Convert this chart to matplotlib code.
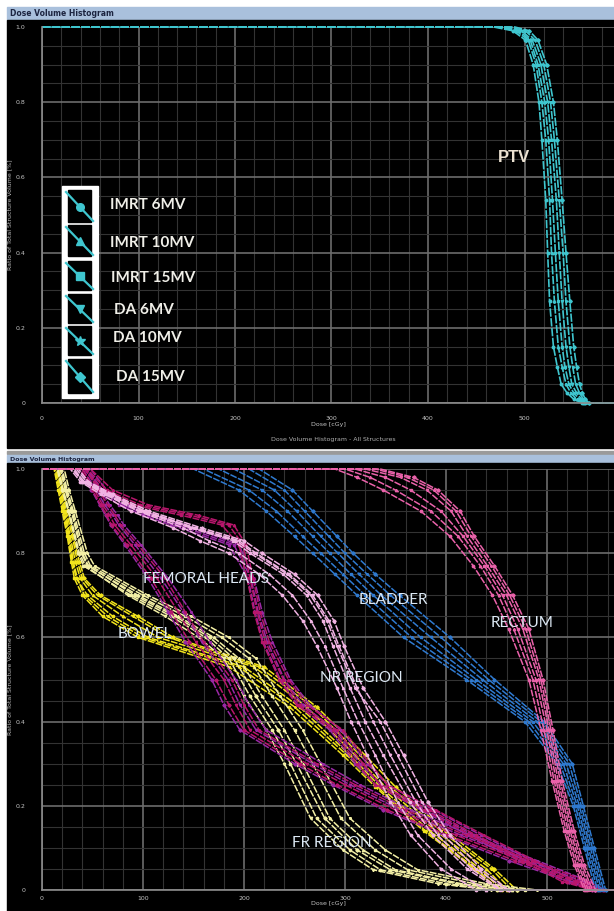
import numpy as np
import matplotlib
matplotlib.use("Agg")
import matplotlib.pyplot as plt
from matplotlib.patches import Rectangle

W, H = 614, 911

# plans (legend) and the marker each plan uses
plans = ["IMRT 6MV", "IMRT 10MV", "IMRT 15MV", "DA 6MV", "DA 10MV", "DA 15MV"]
plan_markers = ["o", "^", "s", "v", "*", "D"]

dose_ticks = [0, 100, 200, 300, 400, 500]
dose_tick_labels = ["0", "100", "200", "300", "400", "500"]
vol_ticks = [0, 0.2, 0.4, 0.6, 0.8, 1.0]
vol_tick_labels = ["0", "0.2", "0.4", "0.6", "0.8", "1.0"]

# ---- PTV (top window): dose at each volume level, one row per plan
ptv_vol = [1.0, 0.99, 0.965, 0.9, 0.8, 0.7, 0.54, 0.4, 0.27, 0.15, 0.096, 0.05, 0.027, 0.01, 0.0]
ptv_dose = [
    [468, 488, 501, 509, 515, 518, 522, 524, 526, 530, 534, 538, 544, 551, 560],
    [472, 491, 504, 512, 518, 522, 526, 528, 531, 535, 539, 543, 548, 554, 562],
    [476, 494, 506, 514, 521, 525, 529, 532, 535, 539, 542, 546, 551, 557, 563],
    [480, 497, 508, 517, 524, 528, 533, 536, 539, 543, 546, 549, 554, 559, 564],
    [485, 501, 511, 520, 527, 531, 536, 540, 543, 547, 550, 553, 557, 561, 566],
    [490, 505, 514, 523, 530, 534, 539, 543, 547, 551, 554, 557, 560, 563, 567],
]

# ---- organs at risk (bottom window)
bowel_vol = [1.0, 0.95, 0.9, 0.84, 0.78, 0.74, 0.7, 0.65, 0.6, 0.53, 0.435, 0.32, 0.245, 0.14, 0.05, 0.0]
bowel_dose = [
    [13, 17, 21, 26, 30, 34, 45, 70, 105, 200, 255, 305, 335, 384, 434, 455],
    [15, 19, 23, 28, 33, 38, 50, 80, 115, 210, 262, 310, 340, 390, 440, 460],
    [12, 16, 20, 25, 29, 32, 40, 60, 95, 185, 245, 298, 330, 378, 428, 450],
    [16, 20, 24, 30, 35, 40, 55, 90, 125, 215, 268, 315, 345, 395, 445, 465],
    [14, 18, 22, 27, 31, 35, 42, 65, 100, 195, 250, 302, 332, 380, 430, 452],
    [17, 21, 26, 31, 37, 42, 58, 95, 130, 220, 272, 320, 350, 400, 448, 470],
]

fr_vol = [1.0, 0.95, 0.9, 0.8, 0.77, 0.7, 0.65, 0.6, 0.55, 0.46, 0.38, 0.3, 0.17, 0.095, 0.048, 0.015, 0.0]
fr_dose = [
    [15, 20, 26, 36, 41, 88, 128, 162, 185, 206, 228, 246, 272, 305, 335, 400, 450],
    [18, 23, 29, 39, 45, 95, 135, 170, 195, 218, 240, 258, 285, 318, 350, 415, 465],
    [20, 25, 31, 42, 48, 100, 142, 178, 205, 228, 250, 268, 296, 330, 362, 428, 478],
    [16, 21, 27, 37, 43, 85, 122, 155, 180, 200, 222, 240, 266, 298, 328, 392, 445],
    [22, 27, 33, 45, 52, 105, 148, 185, 212, 236, 258, 276, 305, 340, 372, 440, 490],
    [19, 24, 30, 40, 46, 92, 132, 166, 190, 212, 234, 252, 280, 312, 345, 410, 470],
]

fem_vol = [1.0, 0.95, 0.915, 0.89, 0.867, 0.82, 0.74, 0.66, 0.59, 0.5, 0.44, 0.38, 0.3, 0.25, 0.19, 0.13, 0.07, 0.02, 0.0]
fem_left_dose = [
    [45, 64, 97, 147, 185, 199, 206, 213, 221, 239, 255, 292, 318, 335, 384, 430, 480, 520, 550],
    [48, 70, 105, 155, 190, 202, 209, 216, 225, 244, 262, 298, 325, 342, 390, 438, 488, 528, 556],
    [42, 60, 90, 138, 178, 195, 203, 210, 218, 235, 252, 288, 312, 330, 378, 425, 475, 515, 545],
    [40, 52, 60, 67, 72, 88, 114, 135, 152, 180, 192, 206, 262, 300, 350, 410, 475, 533, 550],
    [43, 56, 65, 72, 78, 95, 122, 142, 160, 188, 200, 215, 272, 310, 360, 420, 485, 540, 556],
    [38, 50, 58, 64, 69, 84, 108, 128, 146, 172, 185, 200, 255, 292, 342, 402, 468, 528, 548],
]
fem_right_dose = [
    [45, 60, 80, 105, 135, 190, 207, 214, 223, 240, 258, 290, 315, 335, 380, 428, 478, 525, 552],
    [48, 64, 86, 112, 142, 195, 210, 218, 228, 246, 265, 296, 322, 342, 388, 435, 485, 530, 555],
    [42, 57, 76, 100, 128, 185, 204, 211, 219, 236, 253, 285, 310, 330, 375, 422, 472, 520, 548],
    [40, 54, 62, 70, 76, 92, 118, 140, 158, 184, 196, 212, 268, 305, 355, 415, 480, 536, 553],
    [44, 58, 67, 75, 81, 98, 125, 148, 166, 192, 205, 222, 278, 315, 365, 425, 490, 542, 558],
    [37, 49, 57, 63, 68, 82, 105, 125, 142, 168, 180, 196, 250, 288, 338, 398, 462, 522, 545],
]

nr_vol = [1.0, 0.97, 0.94, 0.9, 0.86, 0.83, 0.8, 0.75, 0.7, 0.64, 0.58, 0.48, 0.4, 0.32, 0.21, 0.13, 0.05, 0.0]
nr_dose = [
    [28, 38, 58, 88, 130, 156, 185, 215, 238, 258, 272, 292, 306, 322, 345, 365, 395, 430],
    [30, 40, 62, 95, 140, 165, 195, 225, 248, 266, 280, 298, 313, 330, 352, 372, 405, 440],
    [32, 41, 64, 97, 147, 189, 206, 239, 262, 278, 288, 305, 320, 338, 364, 387, 421, 453],
    [34, 44, 68, 102, 152, 195, 212, 245, 268, 284, 294, 312, 328, 345, 370, 392, 425, 455],
    [30, 42, 66, 100, 150, 192, 210, 243, 266, 282, 292, 310, 335, 352, 376, 398, 430, 460],
    [36, 46, 70, 106, 158, 200, 218, 250, 273, 289, 299, 318, 340, 358, 382, 404, 435, 462],
]

bladder_vol = [1.0, 0.95, 0.9, 0.84, 0.8, 0.75, 0.7, 0.6, 0.5, 0.4, 0.3, 0.2, 0.1, 0.0]
bladder_dose = [
    [150, 195, 222, 250, 268, 290, 312, 358, 420, 478, 510, 526, 537, 548],
    [160, 205, 232, 258, 276, 298, 320, 366, 425, 482, 513, 528, 539, 550],
    [175, 218, 243, 268, 285, 306, 328, 375, 430, 486, 516, 530, 541, 552],
    [190, 230, 252, 276, 293, 314, 336, 385, 436, 490, 519, 532, 543, 554],
    [205, 240, 260, 284, 300, 322, 345, 395, 442, 494, 522, 534, 545, 556],
    [215, 248, 268, 292, 308, 330, 354, 404, 448, 497, 525, 536, 547, 558],
]

rectum_vol = [1.0, 0.98, 0.95, 0.9, 0.84, 0.77, 0.7, 0.62, 0.5, 0.38, 0.26, 0.14, 0.06, 0.0]
rectum_dose = [
    [290, 312, 338, 375, 404, 427, 446, 462, 482, 494, 505, 517, 527, 537],
    [300, 325, 350, 385, 412, 434, 452, 467, 486, 497, 507, 519, 529, 539],
    [310, 340, 365, 395, 417, 438, 456, 471, 489, 500, 509, 521, 531, 541],
    [320, 355, 381, 405, 421, 441, 460, 476, 492, 502, 511, 523, 533, 543],
    [330, 362, 388, 410, 425, 445, 463, 479, 494, 504, 513, 525, 535, 545],
    [335, 368, 392, 414, 428, 448, 466, 482, 496, 506, 515, 527, 537, 548],
]

organs = [
    (bowel_vol, bowel_dose, "#f2e41c"),
    (fr_vol, fr_dose, "#f4f0a6"),
    (fem_vol, fem_right_dose, "#9a28a6"),
    (fem_vol, fem_left_dose, "#b8166c"),
    (nr_vol, nr_dose, "#f2b4e4"),
    (bladder_vol, bladder_dose, "#2f7ad0"),
    (rectum_vol, rectum_dose, "#ea62aa"),
]

LABEL_FONT = ["Lato", "DejaVu Sans"]


def px_axes(fig, x0, y0, x1, y1):
    # axes placed by pixel box (top-left origin)
    return fig.add_axes([x0 / W, 1 - y1 / H, (x1 - x0) / W, (y1 - y0) / H])


def style_dvh(ax, xmax):
    ax.set_facecolor("black")
    ax.set_xlim(0, xmax)
    ax.set_ylim(0, 1.0)
    ax.set_xticks(dose_ticks)
    ax.set_xticklabels(dose_tick_labels)
    ax.set_yticks(vol_ticks)
    ax.set_yticklabels(vol_tick_labels)
    ax.set_xticks(np.arange(0, xmax, 20), minor=True)
    ax.set_yticks(np.arange(0, 1.0, 0.05), minor=True)
    ax.grid(which="minor", color="#333333", lw=0.8)
    ax.grid(which="major", color="#6c6c6c", lw=1.2)
    ax.set_axisbelow(True)
    ax.tick_params(which="both", length=0, labelsize=4.5, colors="#c4c4c4")
    ax.tick_params(axis="y", pad=12)
    for s in ["top", "right"]:
        ax.spines[s].set_visible(False)
    for s in ["left", "bottom"]:
        ax.spines[s].set_color("#8c8c8c")
        ax.spines[s].set_linewidth(1.2)
    ax.set_ylabel("Ratio of Total Structure Volume [%]", fontsize=4.5,
                  color="#b8b8b8", labelpad=2)


def draw_curves(ax, vols, doses, color, xmax, lw=1.1):
    for i, d in enumerate(doses):
        x = [0] + list(d) + [xmax]
        y = [1.0] + list(vols) + [0.0]
        ax.plot(x, y, color=color, lw=lw, ls=(0, (4.5, 0.9)),
                marker=plan_markers[i], ms=1.7, markevery=list(range(2, len(x) - 1)),
                clip_on=False)


fig = plt.figure(figsize=(W / 100, H / 100), dpi=100)
fig.patch.set_facecolor("white")

# window frames
bg = fig.add_axes([0, 0, 1, 1])
bg.set_xlim(0, W)
bg.set_ylim(H, 0)
bg.axis("off")
bg.add_patch(Rectangle((7, 7), W - 7, 13, color="#a9c0dc"))
bg.add_patch(Rectangle((7, 20), W - 7, 428, color="black"))
bg.add_patch(Rectangle((7, 451), W - 7, 3, color="#9a9a9a"))
bg.add_patch(Rectangle((7, 455), W - 7, 8, color="#a9c0dc"))
bg.add_patch(Rectangle((7, 463), W - 7, H - 463, color="black"))
bg.text(10, 13.5, "Dose Volume Histogram", fontsize=5.5, color="#1c2440",
        va="center", ha="left", fontweight="bold")
bg.text(10, 459, "Dose Volume Histogram", fontsize=4.5, color="#1c2440",
        va="center", ha="left", fontweight="bold")
bg.text(333, 440, "Dose Volume Histogram - All Structures", fontsize=4.5,
        color="#b0b0b0", ha="center", va="center")

# top: PTV
top_xmax = 572 / 0.965
ax1 = px_axes(fig, 42, 27, W, 403)
style_dvh(ax1, top_xmax)
ax1.tick_params(axis="x", pad=9)
for i, d in enumerate(ptv_dose):
    x = [0] + d + [top_xmax]
    y = [1.0] + ptv_vol + [0.0]
    ax1.plot(x, y, color="#3fc6cf", lw=1.2, ls=(0, (5, 0.9)),
             marker=plan_markers[i], ms=1.8, markevery=list(range(2, len(x) - 1)),
             clip_on=False)
ax1.set_xlabel("Dose [cGy]", fontsize=4.5, color="#c4c4c4", labelpad=1)
ax1.text(472, 0.654, "PTV", fontsize=12, fontweight="bold", color="#ece2d2",
         family=["Liberation Sans", "DejaVu Sans"], ha="left", va="center")

# bottom: organs
bot_xmax = 572 / 1.01
ax2 = px_axes(fig, 42, 469, W, 890)
style_dvh(ax2, bot_xmax)
ax2.tick_params(axis="x", pad=4)
for vols, doses, color in organs:
    draw_curves(ax2, vols, doses, color, bot_xmax)
ax2.set_xlabel("Dose [cGy]", fontsize=4.5, color="#c4c4c4", labelpad=0.5)

lab = dict(fontsize=11, color="#dce8f4", family=LABEL_FONT, ha="left", va="center")
ax2.text(100, 0.739, "FEMORAL HEADS", **lab)
ax2.text(75, 0.608, "BOWEL", **lab)
ax2.text(313, 0.689, "BLADDER", **lab)
ax2.text(444, 0.634, "RECTUM", **lab)
ax2.text(275, 0.504, "NR REGION", **lab)
ax2.text(248, 0.112, "FR REGION", **lab)

# legend drawn on top in pixel space
fg = fig.add_axes([0, 0, 1, 1], facecolor="none")
fg.set_xlim(0, W)
fg.set_ylim(H, 0)
fg.axis("off")
fg.add_patch(Rectangle((62, 186), 36, 212, color="white"))
boxes = [(190, 222), (225, 256), (261, 290), (294, 323), (326, 355), (359, 393)]
label_pos = [(110, 205), (110, 243), (111, 278), (114, 310), (113, 338), (116, 377)]
for i, name in enumerate(plans):
    t, b = boxes[i]
    fg.add_patch(Rectangle((68, t), 23, b - t, color="black"))
    fg.plot([66, 93], [t + 2, b - 1], color="#3fc6cf", lw=1.6)
    fg.plot([79.5], [(t + b) / 2 + 0.5], marker=plan_markers[i], color="#3fc6cf",
            ms=5.5 if plan_markers[i] != "*" else 7)
    fg.text(label_pos[i][0], label_pos[i][1], name, fontsize=11, fontweight="bold",
            color="#f0efe8", family=LABEL_FONT, ha="left", va="center")

fig.savefig("out.png", dpi=100, facecolor="white")
